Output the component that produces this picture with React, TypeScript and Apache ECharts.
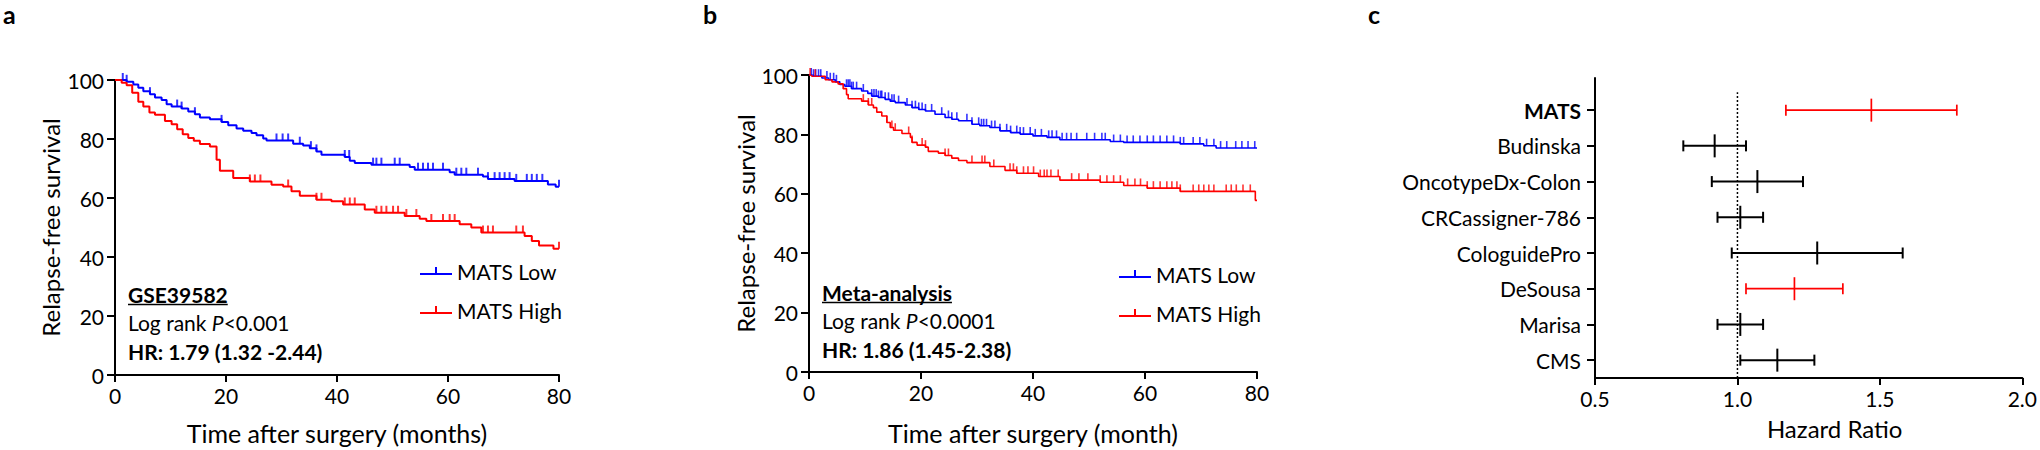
import React, { useEffect, useRef } from "react";
import * as echarts from "echarts";

const FONT = "Lato, 'Open Sans', 'DejaVu Sans', sans-serif";
const BLUE = "#0000ff";
const RED = "#ff0000";
const BLACK = "#000000";

const groupNames = ["MATS Low", "MATS High"];
const yName = "Relapse-free survival";

// ---------- panel a : GSE39582 ----------
const aTitle = "GSE39582";
const aP = "<0.001";
const aHR = "HR: 1.79 (1.32 -2.44)";
const aXName = "Time after surgery (months)";
const aLowSteps = [
  [0, 100], [2.1, 99.4], [3.3, 98.5], [4.2, 97.4], [5.1, 96.2], [6.3, 95.2], [7.2, 94.1], [8.4, 93.2],
  [9.3, 91.8], [10.2, 91.0], [12.0, 90.3], [13.2, 89.3], [14.4, 88.4], [15.3, 87.3], [17.1, 86.7],
  [19.2, 85.8], [20.4, 84.7], [21.9, 83.6], [23.1, 82.8], [24.6, 82.0], [25.5, 81.3], [26.7, 80.2],
  [27.3, 79.5], [32.1, 78.4], [33.9, 77.8], [35.1, 76.9], [36.3, 75.8], [37.2, 74.7], [41.4, 73.9],
  [42.3, 72.6], [43.2, 71.9], [46.2, 71.3], [53.1, 70.5], [54.0, 69.6], [60.3, 68.7], [61.2, 67.9],
  [66.3, 67.3], [67.2, 66.4], [72.0, 65.8], [78.0, 64.6], [79.4, 63.8], [80, 63.8],
];
const aHighSteps = [
  [0, 100], [1.2, 99.1], [2.1, 98.2], [3.1, 95.7], [4.2, 92.6], [5.1, 91.0], [6.2, 89.0], [7.2, 88.2],
  [9.0, 86.1], [10.2, 85.0], [11.2, 83.3], [12.2, 81.6], [13.2, 80.3], [14.2, 79.4], [15.3, 78.3],
  [17.1, 77.5], [18.3, 73.0], [18.9, 69.2], [21.3, 66.8], [24.3, 65.6], [28.2, 64.5], [30.3, 63.9],
  [31.8, 62.3], [33.3, 60.8], [36.3, 59.4], [39.0, 58.9], [41.1, 57.8], [45.0, 56.1], [46.8, 55.0],
  [52.2, 53.9], [54.9, 53.0], [56.1, 52.2], [62.1, 51.1], [64.2, 50.0], [66.0, 48.3], [73.8, 47.1],
  [75.1, 45.4], [76.4, 43.9], [79.0, 42.8], [80, 42.8],
];
const aLowCensor = [
  1.4, 2.1, 6.3, 11.2, 12.0, 14.4, 19.2, 29.1, 30.2, 31.2, 33.3, 35.3, 36.3, 41.4, 42.2, 46.5, 47.1, 48.0,
  50.4, 51.3, 54.6, 55.5, 56.4, 57.3, 59.1, 61.5, 62.4, 63.3, 65.4, 67.2, 68.4, 69.3, 70.2, 71.1, 72.3,
  74.2, 75.1, 76.0, 77.0, 80,
];
const aHighCensor = [
  24.3, 25.2, 26.2, 31.2, 36.3, 37.2, 41.4, 42.3, 43.2, 47.1, 48.0, 48.9, 50.1, 51.0, 52.5, 54.3, 57.0,
  59.1, 60.3, 61.2, 66.3, 67.2, 68.1, 72.3, 73.5, 80,
];

// ---------- panel b : meta-analysis ----------
const bTitle = "Meta-analysis";
const bP = "<0.0001";
const bHR = "HR: 1.86 (1.45-2.38)";
const bXName = "Time after surgery (month)";
const bLowSteps = [
  [0, 100], [0.8, 99.6], [2.3, 99.0], [3.5, 98.4], [4.7, 97.7], [5.5, 96.8], [6.4, 96.2], [7.6, 95.4],
  [9.4, 94.6], [10.5, 93.8], [11.2, 92.9], [12.4, 92.4], [13.6, 91.8], [14.5, 91.2], [15.4, 90.7],
  [17.2, 89.9], [18.4, 89.0], [19.6, 88.4], [20.8, 87.9], [22.5, 86.8], [24.3, 85.7], [25.5, 85.1],
  [26.7, 84.6], [29.1, 83.4], [30.5, 82.9], [32.3, 82.3], [34.1, 81.2], [36.0, 80.6], [37.7, 80.1],
  [40.0, 79.5], [42.5, 79.0], [44.8, 78.2], [53.8, 77.6], [56.2, 77.3], [66.3, 76.8], [70.5, 76.2],
  [72.7, 75.4], [80, 75.4],
];
const bHighSteps = [
  [0, 100], [0.5, 99.6], [2.9, 98.4], [4.1, 97.7], [5.2, 97.0], [6.1, 95.4], [6.7, 93.4], [7.0, 92.0],
  [9.4, 91.2], [10.6, 89.9], [11.5, 89.0], [12.1, 87.5], [13.0, 86.2], [13.9, 84.0], [14.5, 82.3],
  [15.1, 81.4], [16.6, 80.3], [18.1, 79.0], [18.4, 77.3], [19.3, 76.4], [20.8, 75.7], [21.3, 74.3],
  [23.1, 73.7], [24.3, 72.9], [25.5, 72.0], [26.7, 71.2], [28.2, 70.5], [32.3, 69.2], [35.0, 67.9],
  [37.1, 66.9], [41.0, 65.8], [44.8, 64.6], [52.0, 63.9], [56.2, 62.8], [60.4, 61.9], [66.3, 60.8],
  [79.7, 57.8], [80, 57.8],
];
const bLowCensor = [
  0.4, 0.8, 1.2, 1.7, 2.1, 3.2, 3.8, 4.4, 4.9, 6.7, 7.0, 7.3, 7.6, 7.9, 8.5, 9.7, 11.2, 11.6, 12.0, 12.4,
  12.8, 13.0, 13.6, 14.2, 14.8, 15.2, 16.0, 17.5, 18.4, 19.0, 19.6, 20.2, 20.8, 21.9, 23.7, 24.9, 25.5,
  26.4, 28.2, 29.1, 30.3, 30.8, 31.2, 31.7, 32.6, 33.2, 34.1, 35.3, 36.0, 37.1, 37.7, 38.3, 39.5, 40.4,
  41.5, 42.8, 43.4, 44.2, 45.2, 46.0, 46.8, 47.8, 49.6, 51.0, 52.3, 52.9, 54.4, 55.6, 56.8, 57.9, 59.1,
  60.4, 61.5, 62.7, 63.9, 65.1, 66.3, 66.9, 68.6, 69.8, 71.0, 72.3, 73.5, 74.6, 76.2, 77.3, 78.4, 79.6,
];
const bHighCensor = [
  0.2, 1.1, 9.7, 10.6, 11.2, 13.9, 14.8, 15.4, 17.8, 18.4, 20.2, 20.8, 24.3, 24.9, 29.1, 30.9, 31.4, 33.0,
  35.9, 36.5, 37.1, 38.3, 39.1, 40.1, 41.3, 42.0, 42.5, 43.2, 44.5, 46.9, 48.2, 49.8, 52.0, 53.2, 54.4,
  55.6, 56.9, 58.2, 59.2, 60.4, 61.5, 62.7, 63.9, 64.8, 65.7, 66.3, 68.6, 69.6, 70.5, 71.4, 72.3, 74.5,
  75.4, 76.3, 77.5, 78.8,
];

// ---------- panel c : hazard ratios ----------
const hrModels = ["MATS", "Budinska", "OncotypeDx-Colon", "CRCassigner-786", "CologuidePro", "DeSousa", "Marisa", "CMS"];
const hrLow = [1.17, 0.81, 0.91, 0.93, 0.98, 1.03, 0.93, 1.01];
const hrMid = [1.47, 0.92, 1.07, 1.01, 1.28, 1.20, 1.01, 1.14];
const hrHigh = [1.77, 1.03, 1.23, 1.09, 1.58, 1.37, 1.09, 1.27];
const hrHighlighted = ["MATS", "DeSousa"];
const hrBold = ["MATS"];
const hrNull = 1.0;
const hrXName = "Hazard Ratio";
const panelLetters = ["a", "b", "c"];

function valueAt(steps: number[][], t: number) {
  let v = steps[0][1];
  for (const [s, val] of steps) {
    if (s <= t) v = val;
    else break;
  }
  return v;
}

function measure(text: string, font: string) {
  const ctx = document.createElement("canvas").getContext("2d");
  if (!ctx) return text.length * 10;
  ctx.font = font;
  return ctx.measureText(text).width;
}

const LEGEND_ICON = "path://M15,0H17V7H15Z M0,6H32V8H0Z";

function kmAxes(grid: number, xName: string, yGap: number, xGap: number) {
  const axisLine = { show: true, onZero: false, lineStyle: { color: BLACK, width: 2 } };
  const axisTick = { show: true, length: 7, lineStyle: { color: BLACK, width: 2 } };
  const axisLabel = { fontSize: 21, fontFamily: FONT, color: BLACK, margin: 10 };
  return {
    x: {
      gridIndex: grid, type: "value", min: 0, max: 80, interval: 20,
      name: xName, nameLocation: "middle", nameGap: xGap,
      nameTextStyle: { fontSize: 25, fontFamily: FONT, color: BLACK },
      axisLine, axisTick, axisLabel, splitLine: { show: false },
    },
    y: {
      gridIndex: grid, type: "value", min: 0, max: 100, interval: 20,
      name: yName, nameLocation: "middle", nameGap: yGap,
      nameTextStyle: { fontSize: 24, fontFamily: FONT, color: BLACK },
      axisLine, axisTick: { ...axisTick, length: 8 }, axisLabel: { ...axisLabel, margin: 11 }, splitLine: { show: false },
    },
  };
}

function kmSeries(axis: number, lowSteps: number[][], highSteps: number[][], lowC: number[], highC: number[], lw: number, tickH: number) {
  const line = (name: string, steps: number[][], color: string) => ({
    type: "line", name, xAxisIndex: axis, yAxisIndex: axis, data: steps, step: "end",
    symbol: "none", showSymbol: false, lineStyle: { color, width: lw }, itemStyle: { color }, z: 3, silent: true,
  });
  const cens = (name: string, steps: number[][], times: number[], color: string) => ({
    type: "scatter", name: name + " censored", xAxisIndex: axis, yAxisIndex: axis,
    data: times.map((t) => [t, valueAt(steps, t)]), symbol: "rect", symbolSize: [lw, tickH],
    symbolOffset: [0, -tickH / 2], itemStyle: { color }, z: 4, silent: true,
  });
  return [
    line(groupNames[0], lowSteps, BLUE),
    line(groupNames[1], highSteps, RED),
    cens(groupNames[0], lowSteps, lowC, BLUE),
    cens(groupNames[1], highSteps, highC, RED),
  ];
}

function annotation(x: number, yTop: number, title: string, p: string, hr: string) {
  const boldFont = `bold 21px ${FONT}`;
  const w = measure(title, boldFont);
  const base = { fontSize: 21, fontFamily: FONT, fill: BLACK };
  return [
    { type: "text", x, y: yTop, silent: true,
      style: { ...base, text: title, fontWeight: "bold", textAlign: "left", textVerticalAlign: "middle", align: "left", verticalAlign: "middle" } },
    { type: "line", silent: true, shape: { x1: x, y1: yTop + 10.5, x2: x + w, y2: yTop + 10.5 }, style: { stroke: BLACK, lineWidth: 1.5 } },
    { type: "text", x, y: yTop + 28, silent: true,
      style: {
        ...base, text: `{n|Log rank }{i|P}{n|${p}}`, textAlign: "left", textVerticalAlign: "middle", align: "left", verticalAlign: "middle",
        rich: { n: { ...base }, i: { ...base, fontStyle: "italic" } },
      } },
    { type: "text", x, y: yTop + 57, silent: true,
      style: { ...base, text: hr, fontWeight: "bold", textAlign: "left", textVerticalAlign: "middle", align: "left", verticalAlign: "middle" } },
  ];
}

export default function App() {
  const ref = useRef<HTMLDivElement>(null);
  useEffect(() => {
    if (!ref.current) return;
    const chart = echarts.init(ref.current, undefined, { renderer: "svg" });
    const a = kmAxes(0, aXName, 53, 45);
    const b = kmAxes(1, bXName, 47, 48);
    const nModels = hrModels.length;
    const catValues = hrModels.map((_, i) => nModels - i);

    const legend = (left: number, top: number) => ({
      left, top, orient: "vertical", itemWidth: 32, itemHeight: 8, itemGap: 17, selectedMode: false,
      data: groupNames.map((name) => ({ name, icon: LEGEND_ICON })),
      textStyle: { fontSize: 21, fontFamily: FONT, color: BLACK, lineHeight: 22 },
    });

    const option: any = {
      animation: false,
      backgroundColor: "#ffffff",
      textStyle: { fontFamily: FONT },
      grid: [
        { left: 115, top: 80, width: 444, height: 296 },
        { left: 809, top: 75, width: 448, height: 300 },
        { left: 1595, top: 78, width: 430, height: 300 },
      ],
      legend: [legend(415, 255), legend(1114, 258)],
      xAxis: [
        a.x, b.x,
        {
          gridIndex: 2, type: "value", min: 0.5, max: 2.0, interval: 0.5,
          name: hrXName, nameLocation: "middle", nameGap: 38,
          nameTextStyle: { fontSize: 24, fontFamily: FONT, color: BLACK, padding: [0, 0, 0, 52] },
          axisLine: { show: true, onZero: false, lineStyle: { color: BLACK, width: 2 } },
          axisTick: { show: true, length: 7, lineStyle: { color: BLACK, width: 2 } },
          axisLabel: { fontSize: 21, fontFamily: FONT, color: BLACK, margin: 10, formatter: (v: number) => v.toFixed(1) },
          splitLine: { show: false },
        },
      ],
      yAxis: [
        a.y, b.y,
        {
          gridIndex: 2, type: "value", min: 0.5, max: 8.9,
          axisLine: { show: true, onZero: false, lineStyle: { color: BLACK, width: 2 } },
          axisTick: { show: true, length: 8, customValues: catValues, lineStyle: { color: BLACK, width: 2 } },
          axisLabel: {
            customValues: catValues, fontSize: 21, fontFamily: FONT, color: BLACK, margin: 14,
            formatter: (v: number) => {
              const name = hrModels[nModels - Math.round(v)] || "";
              return hrBold.includes(name) ? `{b|${name}}` : name;
            },
            rich: { b: { fontWeight: "bold", fontSize: 21, fontFamily: FONT, color: BLACK } },
          },
          splitLine: { show: false },
        },
      ],
      series: [
        ...kmSeries(0, aLowSteps, aHighSteps, aLowCensor, aHighCensor, 2, 7),
        ...kmSeries(1, bLowSteps, bHighSteps, bLowCensor, bHighCensor, 1.6, 7),
        {
          type: "line", name: "null", xAxisIndex: 2, yAxisIndex: 2, data: [[hrNull, 0.5], [hrNull, 8.5]],
          symbol: "none", lineStyle: { color: BLACK, width: 1.5, type: [2, 2] }, silent: true, z: 1,
        },
        {
          type: "custom", name: "HR", xAxisIndex: 2, yAxisIndex: 2, silent: true, z: 3,
          data: hrModels.map((_, i) => [hrLow[i], hrMid[i], hrHigh[i], nModels - i]),
          renderItem: (params: any, api: any) => {
            const y = api.value(3);
            const lo = api.coord([api.value(0), y]);
            const mid = api.coord([api.value(1), y]);
            const hi = api.coord([api.value(2), y]);
            const hl = hrHighlighted.includes(hrModels[params.dataIndex]);
            const style = { stroke: hl ? RED : BLACK, lineWidth: hl ? 1.7 : 2 };
            return {
              type: "group",
              children: [
                { type: "line", shape: { x1: lo[0], y1: lo[1], x2: hi[0], y2: hi[1] }, style },
                { type: "line", shape: { x1: lo[0], y1: lo[1] - 5.5, x2: lo[0], y2: lo[1] + 5.5 }, style },
                { type: "line", shape: { x1: hi[0], y1: hi[1] - 5.5, x2: hi[0], y2: hi[1] + 5.5 }, style },
                { type: "line", shape: { x1: mid[0], y1: mid[1] - 11.5, x2: mid[0], y2: mid[1] + 11.5 }, style },
              ],
            };
          },
        },
      ],
      graphic: [
        ...annotation(128, 294, aTitle, aP, aHR),
        ...annotation(822, 292, bTitle, bP, bHR),
        ...[[3, 14], [703, 14], [1368, 14]].map(([x, y], i) => ({
          type: "text", x, y, silent: true,
          style: { text: panelLetters[i], fontSize: 25, fontWeight: "bold", fontFamily: FONT, fill: BLACK,
            textAlign: "left", textVerticalAlign: "middle", align: "left", verticalAlign: "middle" },
        })),
      ],
    };
    chart.setOption(option);
    return () => chart.dispose();
  }, []);
  return <div ref={ref} style={{ position: "fixed", left: 0, top: 0, width: 2040, height: 450, background: "#fff" }} />;
}
